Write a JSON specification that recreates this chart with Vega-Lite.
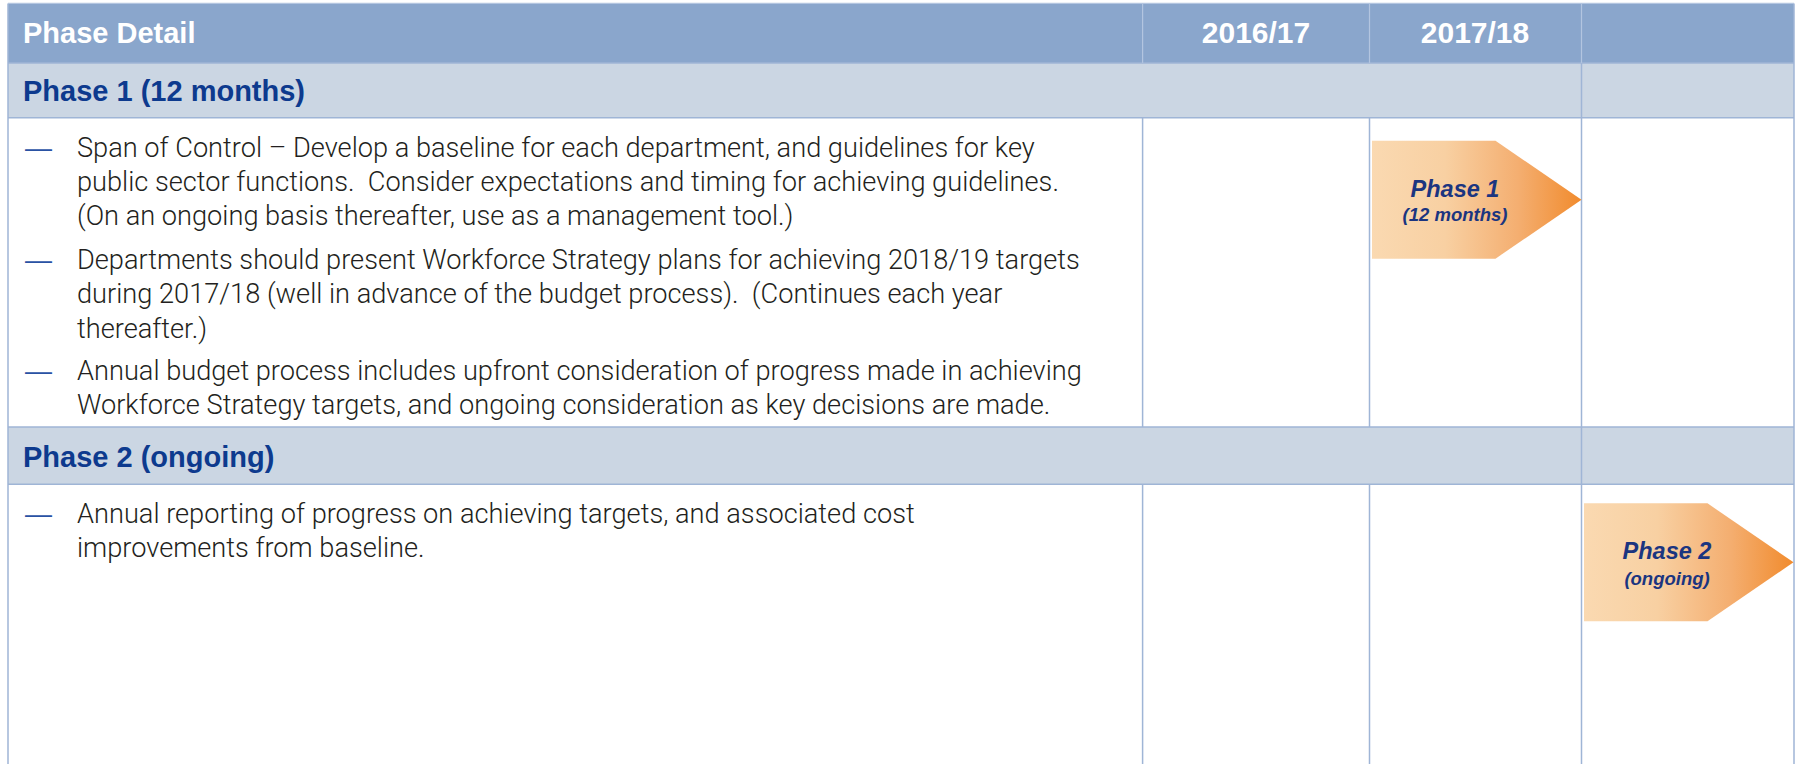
{
  "$schema": "https://vega.github.io/schema/vega-lite/v6.json",
  "width": 1797,
  "height": 765,
  "autosize": {"type": "fit", "contains": "padding"},
  "padding": 0,
  "background": "white",
  "config": {"view": {"stroke": null}},
  "datasets": {
    "bands": [
      {"kind": "header", "x": 8, "x2": 1794, "y": 3.4, "y2": 63},
      {"kind": "phase", "x": 8, "x2": 1794, "y": 63, "y2": 118},
      {"kind": "phase", "x": 8, "x2": 1794, "y": 427.5, "y2": 485}
    ],
    "lines": [
      {"kind": "light", "x": 8, "x2": 1794, "y": 3.4, "y2": 3.4},
      {"kind": "grid", "x": 8, "x2": 1794, "y": 63, "y2": 63},
      {"kind": "grid", "x": 8, "x2": 1794, "y": 118, "y2": 118},
      {"kind": "grid", "x": 8, "x2": 1794, "y": 427.5, "y2": 427.5},
      {"kind": "grid", "x": 8, "x2": 1794, "y": 485, "y2": 485},
      {"kind": "grid", "x": 8, "x2": 8, "y": 3.4, "y2": 765},
      {"kind": "grid", "x": 1794, "x2": 1794, "y": 3.4, "y2": 765},
      {"kind": "light", "x": 1142.6, "x2": 1142.6, "y": 3.4, "y2": 63},
      {"kind": "grid", "x": 1142.6, "x2": 1142.6, "y": 118, "y2": 427.5},
      {"kind": "grid", "x": 1142.6, "x2": 1142.6, "y": 485, "y2": 765},
      {"kind": "light", "x": 1369.5, "x2": 1369.5, "y": 3.4, "y2": 63},
      {"kind": "grid", "x": 1369.5, "x2": 1369.5, "y": 118, "y2": 427.5},
      {"kind": "grid", "x": 1369.5, "x2": 1369.5, "y": 485, "y2": 765},
      {"kind": "light", "x": 1581.5, "x2": 1581.5, "y": 3.4, "y2": 63},
      {"kind": "grid", "x": 1581.5, "x2": 1581.5, "y": 63, "y2": 765}
    ],
    "arrows": [
      {"id": "Phase 1", "x": 1372, "y": 141, "y2": 259},
      {"id": "Phase 1", "x": 1495.5, "y": 141, "y2": 259},
      {"id": "Phase 1", "x": 1581.5, "y": 200, "y2": 200},
      {"id": "Phase 2", "x": 1584, "y": 504, "y2": 622},
      {"id": "Phase 2", "x": 1707.5, "y": 504, "y2": 622},
      {"id": "Phase 2", "x": 1793.5, "y": 563, "y2": 563}
    ],
    "texts": [
      {"kind": "headerL", "x": 23, "y": 34.4, "text": "Phase Detail"},
      {"kind": "headerC", "x": 1256, "y": 34.4, "text": "2016/17"},
      {"kind": "headerC", "x": 1475, "y": 34.4, "text": "2017/18"},
      {"kind": "phase", "x": 23, "y": 91.7, "text": "Phase 1 (12 months)"},
      {"kind": "phase", "x": 23, "y": 458.4, "text": "Phase 2 (ongoing)"},
      {"kind": "dash", "x": 25, "y": 149, "text": "—"},
      {"kind": "dash", "x": 25, "y": 261.3, "text": "—"},
      {"kind": "dash", "x": 25, "y": 372.5, "text": "—"},
      {"kind": "dash", "x": 25, "y": 515.7, "text": "—"},
      {"kind": "body", "x": 77, "y": 149, "text": "Span of Control – Develop a baseline for each department, and guidelines for key"},
      {"kind": "body", "x": 77, "y": 183.4, "text": "public sector functions.\u00a0 Consider expectations and timing for achieving guidelines."},
      {"kind": "body", "x": 77, "y": 217.7, "text": "(On an ongoing basis thereafter, use as a management tool.)"},
      {"kind": "body", "x": 77, "y": 261.3, "text": "Departments should present Workforce Strategy plans for achieving 2018/19 targets"},
      {"kind": "body", "x": 77, "y": 295.7, "text": "during 2017/18 (well in advance of the budget process).\u00a0 (Continues each year"},
      {"kind": "body", "x": 77, "y": 330, "text": "thereafter.)"},
      {"kind": "body", "x": 77, "y": 372.5, "text": "Annual budget process includes upfront consideration of progress made in achieving"},
      {"kind": "body", "x": 77, "y": 406.8, "text": "Workforce Strategy targets, and ongoing consideration as key decisions are made."},
      {"kind": "body", "x": 77, "y": 515.7, "text": "Annual reporting of progress on achieving targets, and associated cost"},
      {"kind": "body", "x": 77, "y": 550, "text": "improvements from baseline."},
      {"kind": "arrowTitle", "x": 1455, "y": 190, "text": "Phase 1"},
      {"kind": "arrowSub", "x": 1455, "y": 215, "text": "(12 months)"},
      {"kind": "arrowTitle", "x": 1667, "y": 553, "text": "Phase 2"},
      {"kind": "arrowSub", "x": 1667, "y": 580, "text": "(ongoing)"}
    ]
  },
  "encoding": {
    "x": {"field": "x", "type": "quantitative", "scale": {"domain": [0, 1797], "nice": false, "zero": false}, "axis": null},
    "y": {"field": "y", "type": "quantitative", "scale": {"domain": [0, 765], "reverse": true, "nice": false, "zero": false}, "axis": null}
  },
  "layer": [
    {
      "data": {"name": "bands"},
      "transform": [{"filter": "datum.kind === 'header'"}],
      "mark": {"type": "rect", "fill": "#8aa6cc"},
      "encoding": {"x2": {"field": "x2"}, "y2": {"field": "y2"}}
    },
    {
      "data": {"name": "bands"},
      "transform": [{"filter": "datum.kind === 'phase'"}],
      "mark": {"type": "rect", "fill": "#cbd6e3"},
      "encoding": {"x2": {"field": "x2"}, "y2": {"field": "y2"}}
    },
    {
      "data": {"name": "lines"},
      "transform": [{"filter": "datum.kind === 'grid'"}],
      "mark": {"type": "rule", "color": "#9fb5d6", "strokeWidth": 1.5},
      "encoding": {"x2": {"field": "x2"}, "y2": {"field": "y2"}}
    },
    {
      "data": {"name": "lines"},
      "transform": [{"filter": "datum.kind === 'light'"}],
      "mark": {"type": "rule", "color": "#b3c5e0", "strokeWidth": 1.2},
      "encoding": {"x2": {"field": "x2"}, "y2": {"field": "y2"}}
    },
    {
      "data": {"name": "arrows"},
      "mark": {
        "type": "area",
        "orient": "vertical",
        "color": {
          "gradient": "linear", "x1": 0, "y1": 0, "x2": 1, "y2": 0,
          "stops": [
            {"offset": 0, "color": "#fad9b1"},
            {"offset": 0.35, "color": "#f8d0a2"},
            {"offset": 0.7, "color": "#f4ae70"},
            {"offset": 1, "color": "#f18b2d"}
          ]
        }
      },
      "encoding": {"y2": {"field": "y2"}, "detail": {"field": "id"}}
    },
    {
      "data": {"name": "texts"},
      "transform": [{"filter": "datum.kind === 'headerL'"}],
      "mark": {"type": "text", "align": "left", "baseline": "middle", "font": "Liberation Sans", "fontWeight": "bold", "fontSize": 29, "color": "white"},
      "encoding": {"text": {"field": "text"}}
    },
    {
      "data": {"name": "texts"},
      "transform": [{"filter": "datum.kind === 'headerC'"}],
      "mark": {"type": "text", "align": "center", "baseline": "middle", "font": "Liberation Sans", "fontWeight": "bold", "fontSize": 30, "color": "white"},
      "encoding": {"text": {"field": "text"}}
    },
    {
      "data": {"name": "texts"},
      "transform": [{"filter": "datum.kind === 'phase'"}],
      "mark": {"type": "text", "align": "left", "baseline": "middle", "font": "Liberation Sans", "fontWeight": "bold", "fontSize": 29, "color": "#0d3a8e"},
      "encoding": {"text": {"field": "text"}}
    },
    {
      "data": {"name": "texts"},
      "transform": [{"filter": "datum.kind === 'dash'"}],
      "mark": {"type": "text", "align": "left", "baseline": "middle", "font": "Liberation Sans", "fontSize": 27, "color": "#2a52a3"},
      "encoding": {"text": {"field": "text"}}
    },
    {
      "data": {"name": "texts"},
      "transform": [{"filter": "datum.kind === 'body'"}],
      "mark": {"type": "text", "align": "left", "baseline": "middle", "font": "Roboto", "fontWeight": 300, "fontSize": 27.2, "color": "#231f20"},
      "encoding": {"text": {"field": "text"}}
    },
    {
      "data": {"name": "texts"},
      "transform": [{"filter": "datum.kind === 'arrowTitle'"}],
      "mark": {"type": "text", "align": "center", "baseline": "middle", "font": "Liberation Sans", "fontWeight": "bold", "fontStyle": "italic", "fontSize": 23.5, "color": "#1b3580"},
      "encoding": {"text": {"field": "text"}}
    },
    {
      "data": {"name": "texts"},
      "transform": [{"filter": "datum.kind === 'arrowSub'"}],
      "mark": {"type": "text", "align": "center", "baseline": "middle", "font": "Liberation Sans", "fontWeight": "bold", "fontStyle": "italic", "fontSize": 18.5, "color": "#1b3580"},
      "encoding": {"text": {"field": "text"}}
    }
  ]
}
